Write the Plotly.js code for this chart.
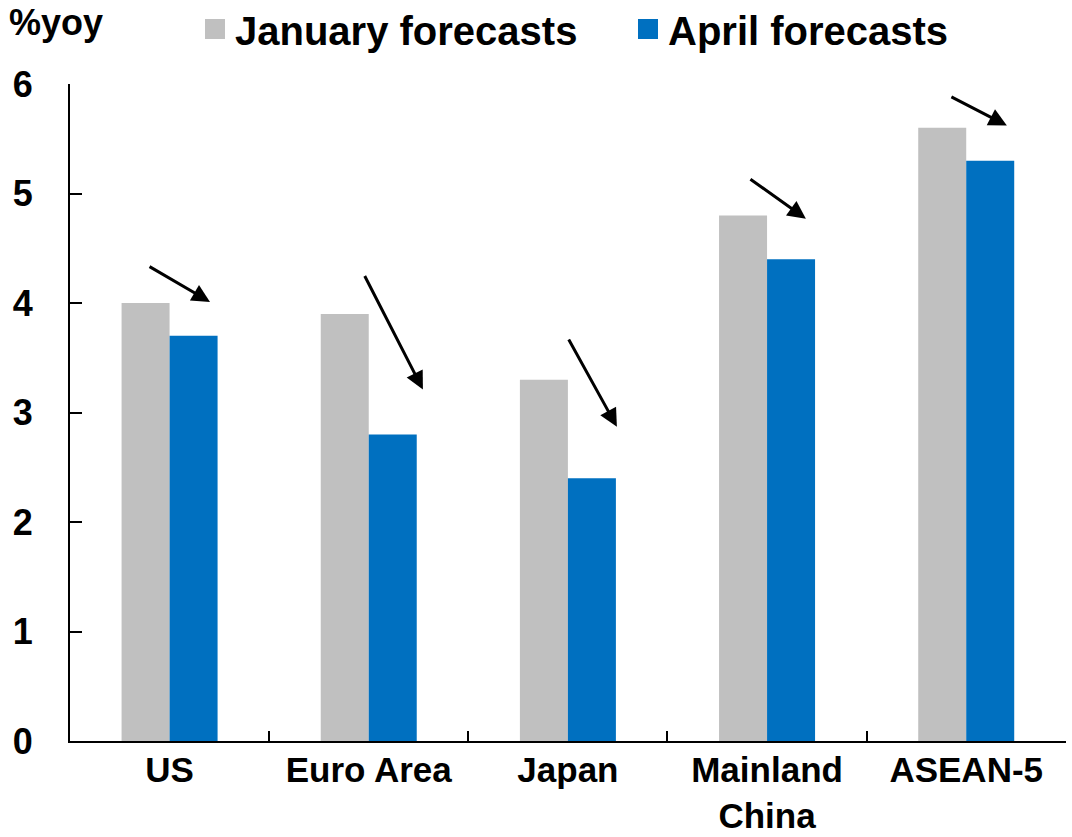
<!DOCTYPE html>
<html>
<head>
<meta charset="utf-8">
<script src="https://cdn.plot.ly/plotly-3.0.1.min.js"></script>
<style>html,body{margin:0;padding:0;background:#fff;}</style>
</head>
<body>
<div id="chart" style="width:1072px;height:837px;"></div>
<script>
// ---- data ----
const categories = ['US', 'Euro Area', 'Japan', 'Mainland China', 'ASEAN-5'];
const tickLabels = ['US', 'Euro Area', 'Japan', 'Mainland<br>China', 'ASEAN-5'];
const januaryForecasts = [4.0, 3.9, 3.3, 4.8, 5.6];
const aprilForecasts = [3.7, 2.8, 2.4, 4.4, 5.3];
const seriesNames = ['January forecasts', 'April forecasts'];
const yTicks = [0, 1, 2, 3, 4, 5, 6];
const yUnit = '%yoy';
// arrow annotations (category index units / % yoy)
const arrowTailX = [-0.108, 0.976, 2.0, 2.909, 3.918];
const arrowTailY = [4.34, 4.26, 3.68, 5.14, 5.89];
const arrowTipX = [0.203, 1.272, 2.246, 3.195, 4.204];
const arrowTipY = [4.01, 3.21, 2.87, 4.77, 5.62];

const FONT = 'Liberation Sans, Arial, Helvetica, sans-serif';

const traces = [
  {type: 'bar', name: seriesNames[0], x: categories, y: januaryForecasts,
   marker: {color: '#C0C0C0'}, hoverinfo: 'skip'},
  {type: 'bar', name: seriesNames[1], x: categories, y: aprilForecasts,
   marker: {color: '#0070C0'}, hoverinfo: 'skip'}
];

const annotations = arrowTipX.map((x, i) => ({
  x: x, y: arrowTipY[i], xref: 'x', yref: 'y',
  ax: arrowTailX[i], ay: arrowTailY[i], axref: 'x', ayref: 'y',
  showarrow: true, arrowhead: 2, arrowsize: 1.2, arrowwidth: 3,
  arrowcolor: '#000', text: ''
}));
annotations.push({
  text: yUnit, xref: 'paper', yref: 'paper', x: -0.063, y: 1.093,
  xanchor: 'left', yanchor: 'middle', showarrow: false,
  font: {family: FONT, size: 36, color: '#000', weight: 700}
});

const layout = {
  width: 1072, height: 837, autosize: false,
  margin: {l: 70, r: 6, t: 84, b: 96, autoexpand: false},
  paper_bgcolor: '#fff', plot_bgcolor: '#fff',
  barmode: 'group', bargap: 0.518, bargroupgap: 0,
  font: {family: FONT, color: '#000', weight: 700},
  showlegend: true,
  legend: {
    orientation: 'h', x: 0.1255, xanchor: 'left', y: 1.133, yanchor: 'top',
    font: {family: FONT, size: 40, color: '#000', weight: 700},
    entrywidth: 388, entrywidthmode: 'pixels',
    bgcolor: 'rgba(0,0,0,0)', borderwidth: 0
  },
  xaxis: {
    type: 'category', range: [-0.5, 4.501], automargin: false,
    tickvals: categories, ticktext: tickLabels,
    showline: true, linecolor: '#000', linewidth: 2,
    ticks: 'inside', tickson: 'boundaries', ticklen: 10, tickwidth: 2, tickcolor: '#000',
    showgrid: false, zeroline: false, ticklabelstandoff: -3,
    tickfont: {family: FONT, size: 35, color: '#000', weight: 700}
  },
  yaxis: {
    range: [0, 6], tickvals: yTicks, ticktext: yTicks.map(String), automargin: false,
    showline: true, linecolor: '#000', linewidth: 2,
    ticks: 'inside', ticklen: 12, tickwidth: 2, tickcolor: '#000',
    showgrid: false, zeroline: false, ticklabelstandoff: 28,
    tickfont: {family: FONT, size: 36, color: '#000', weight: 700}
  },
  annotations: annotations
};

Plotly.newPlot('chart', traces, layout, {staticPlot: true}).then(gd => {
  gd.querySelectorAll('.legend .legendpoints path').forEach(p => {
    p.setAttribute('d', 'M10,10H-10V-10H10Z');
  });
});
</script>
</body>
</html>
